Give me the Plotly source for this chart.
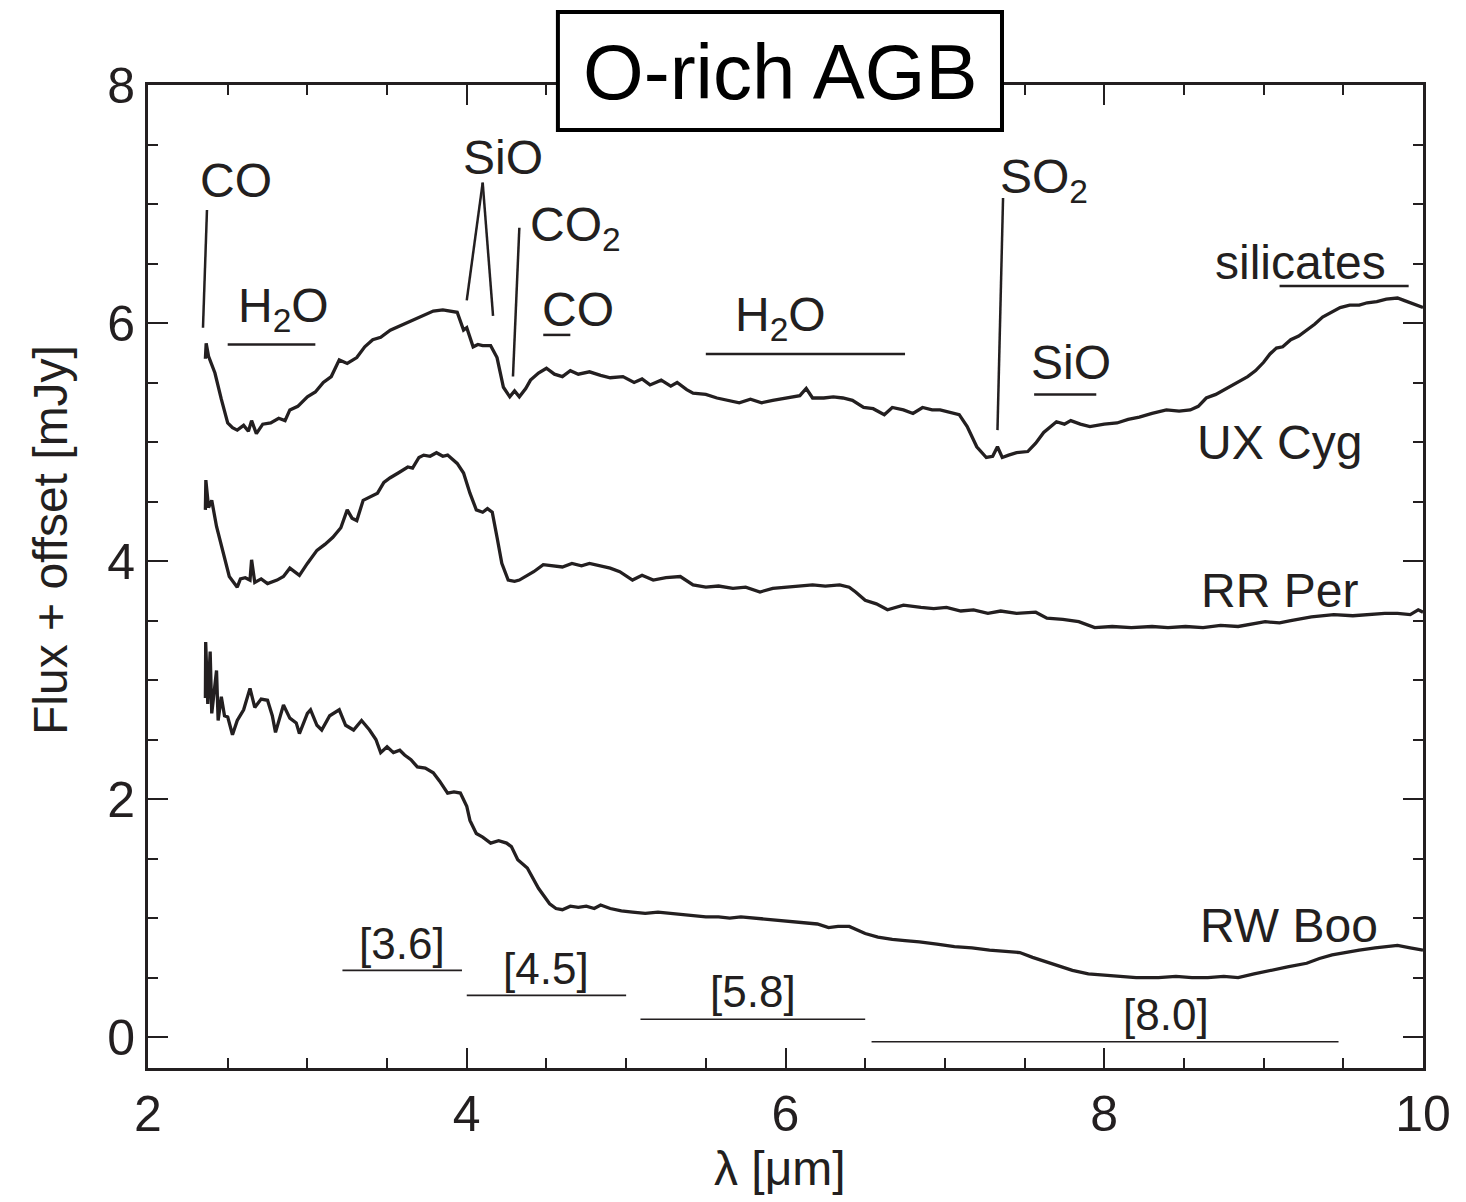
import plotly.graph_objects as go

# ---------------- data ----------------
ux_cyg_x = [2.36, 2.365, 2.38, 2.42, 2.46, 2.50, 2.53, 2.56, 2.60, 2.63, 2.65, 2.68, 2.72, 2.77, 2.82, 2.86,
            2.89, 2.94, 3.00, 3.05, 3.10, 3.15, 3.20, 3.25, 3.31, 3.36, 3.41, 3.46, 3.52, 3.57, 3.63, 3.68,
            3.73, 3.79, 3.85, 3.90, 3.94, 3.98, 4.00, 4.04, 4.07, 4.10, 4.15, 4.19, 4.23, 4.27, 4.30, 4.33,
            4.37, 4.40, 4.45, 4.50, 4.55, 4.60, 4.65, 4.70, 4.77, 4.84, 4.90, 4.98, 5.05, 5.10, 5.15, 5.22,
            5.28, 5.32, 5.38, 5.42, 5.50, 5.57, 5.64, 5.71, 5.78, 5.85, 5.92, 6.00, 6.09, 6.13, 6.17, 6.24,
            6.30, 6.36, 6.42, 6.49, 6.55, 6.62, 6.67, 6.74, 6.80, 6.86, 6.92, 6.97, 7.03, 7.09, 7.14, 7.20,
            7.26, 7.30, 7.33, 7.36, 7.40, 7.45, 7.52, 7.57, 7.62, 7.70, 7.75, 7.79, 7.85, 7.91, 8.00, 8.08,
            8.15, 8.22, 8.30, 8.39, 8.47, 8.54, 8.59, 8.64, 8.70, 8.77, 8.84, 8.90, 8.95, 9.00, 9.04, 9.08,
            9.12, 9.17, 9.22, 9.27, 9.32, 9.37, 9.42, 9.48, 9.54, 9.60, 9.65, 9.71, 9.77, 9.84, 9.88, 9.92,
            9.96, 10.0]
ux_cyg_y = [5.70, 5.83, 5.72, 5.58, 5.36, 5.16, 5.12, 5.10, 5.14, 5.09, 5.18, 5.07, 5.15, 5.16, 5.20, 5.18,
            5.27, 5.30, 5.38, 5.42, 5.50, 5.55, 5.69, 5.66, 5.71, 5.80, 5.86, 5.88, 5.94, 5.97, 6.01, 6.04,
            6.07, 6.10, 6.11, 6.10, 6.09, 5.94, 5.96, 5.80, 5.82, 5.81, 5.81, 5.71, 5.46, 5.38, 5.43, 5.38,
            5.45, 5.52, 5.58, 5.62, 5.57, 5.55, 5.60, 5.57, 5.59, 5.56, 5.54, 5.55, 5.50, 5.53, 5.48, 5.52,
            5.47, 5.50, 5.44, 5.41, 5.40, 5.37, 5.35, 5.33, 5.36, 5.33, 5.35, 5.37, 5.39, 5.45, 5.37, 5.37,
            5.38, 5.37, 5.35, 5.29, 5.28, 5.23, 5.29, 5.27, 5.24, 5.29, 5.27, 5.27, 5.25, 5.23, 5.13, 4.96,
            4.87, 4.88, 4.96, 4.87, 4.89, 4.91, 4.92, 4.99, 5.08, 5.17, 5.15, 5.18, 5.15, 5.13, 5.15, 5.16,
            5.19, 5.21, 5.24, 5.27, 5.26, 5.27, 5.30, 5.37, 5.40, 5.45, 5.50, 5.55, 5.60, 5.67, 5.74, 5.79,
            5.80, 5.86, 5.89, 5.94, 5.99, 6.05, 6.09, 6.13, 6.15, 6.15, 6.17, 6.18, 6.20, 6.21, 6.19, 6.17,
            6.15, 6.13]

rr_per_x = [2.36, 2.363, 2.38, 2.40, 2.43, 2.47, 2.51, 2.56, 2.58, 2.61, 2.64, 2.65, 2.67, 2.71, 2.75, 2.81,
            2.85, 2.89, 2.95, 3.00, 3.06, 3.11, 3.16, 3.21, 3.25, 3.28, 3.31, 3.35, 3.40, 3.44, 3.48, 3.52,
            3.57, 3.63, 3.66, 3.70, 3.73, 3.77, 3.81, 3.85, 3.88, 3.94, 3.98, 4.02, 4.06, 4.10, 4.13, 4.16,
            4.19, 4.22, 4.26, 4.30, 4.33, 4.38, 4.42, 4.48, 4.54, 4.60, 4.66, 4.72, 4.77, 4.84, 4.90, 4.96,
            5.04, 5.10, 5.17, 5.25, 5.34, 5.42, 5.50, 5.58, 5.67, 5.75, 5.84, 5.92, 6.00, 6.08, 6.17, 6.25,
            6.34, 6.40, 6.44, 6.50, 6.57, 6.64, 6.74, 6.85, 6.93, 7.01, 7.10, 7.18, 7.27, 7.35, 7.45, 7.57,
            7.64, 7.74, 7.84, 7.94, 8.05, 8.17, 8.30, 8.40, 8.51, 8.62, 8.73, 8.84, 8.93, 9.01, 9.10, 9.17,
            9.30, 9.44, 9.56, 9.67, 9.76, 9.84, 9.92, 9.97, 10.0]
rr_per_y = [4.43, 4.68, 4.45, 4.51, 4.29, 4.07, 3.87, 3.78, 3.85, 3.86, 3.84, 4.01, 3.82, 3.85, 3.81, 3.84,
            3.87, 3.94, 3.88, 3.98, 4.09, 4.14, 4.20, 4.28, 4.43, 4.36, 4.34, 4.51, 4.54, 4.57, 4.66, 4.70,
            4.74, 4.79, 4.78, 4.87, 4.89, 4.88, 4.91, 4.88, 4.89, 4.82, 4.74, 4.57, 4.43, 4.41, 4.44, 4.41,
            4.20, 3.98, 3.84, 3.83, 3.84, 3.88, 3.91, 3.97, 3.96, 3.95, 3.98, 3.96, 3.98, 3.96, 3.94, 3.91,
            3.84, 3.88, 3.84, 3.86, 3.87, 3.80, 3.78, 3.79, 3.77, 3.78, 3.74, 3.77, 3.78, 3.79, 3.80, 3.79,
            3.80, 3.78, 3.74, 3.67, 3.64, 3.59, 3.63, 3.61, 3.60, 3.61, 3.58, 3.59, 3.56, 3.58, 3.56, 3.57,
            3.52, 3.51, 3.49, 3.44, 3.45, 3.44, 3.45, 3.44, 3.45, 3.44, 3.46, 3.45, 3.47, 3.49, 3.48, 3.50,
            3.53, 3.55, 3.54, 3.55, 3.56, 3.56, 3.55, 3.59, 3.57]

rw_boo_x = [2.36, 2.362, 2.375, 2.39, 2.40, 2.43, 2.44, 2.46, 2.48, 2.50, 2.53, 2.56, 2.60, 2.64, 2.67, 2.71,
            2.75, 2.78, 2.80, 2.85, 2.89, 2.93, 2.95, 3.00, 3.02, 3.06, 3.09, 3.14, 3.20, 3.24, 3.29, 3.34,
            3.39, 3.43, 3.46, 3.50, 3.54, 3.58, 3.61, 3.65, 3.69, 3.74, 3.79, 3.83, 3.88, 3.92, 3.96, 4.00,
            4.02, 4.06, 4.10, 4.15, 4.20, 4.25, 4.28, 4.32, 4.38, 4.45, 4.52, 4.56, 4.60, 4.65, 4.70, 4.75,
            4.80, 4.84, 4.90, 4.97, 5.04, 5.12, 5.20, 5.27, 5.35, 5.42, 5.50, 5.58, 5.65, 5.72, 5.80, 5.90,
            6.00, 6.13, 6.20, 6.27, 6.33, 6.40, 6.45, 6.50, 6.58, 6.67, 6.75, 6.84, 6.95, 7.06, 7.17, 7.28,
            7.38, 7.47, 7.55, 7.64, 7.72, 7.80, 7.90, 8.00, 8.10, 8.20, 8.34, 8.45, 8.55, 8.65, 8.75, 8.84,
            8.94, 9.04, 9.15, 9.27, 9.35, 9.43, 9.51, 9.60, 9.70, 9.78, 9.84, 9.92, 10.0]
rw_boo_y = [2.85, 3.32, 2.80, 3.24, 2.72, 3.08, 2.66, 2.86, 2.70, 2.69, 2.54, 2.66, 2.75, 2.93, 2.77, 2.84,
            2.83, 2.70, 2.56, 2.79, 2.68, 2.64, 2.55, 2.72, 2.75, 2.62, 2.58, 2.70, 2.75, 2.62, 2.58, 2.66,
            2.58, 2.50, 2.39, 2.44, 2.39, 2.41, 2.37, 2.33, 2.27, 2.26, 2.22, 2.15, 2.05, 2.06, 2.05, 1.94,
            1.82, 1.71, 1.68, 1.63, 1.65, 1.63, 1.60, 1.49, 1.42, 1.25, 1.12, 1.08, 1.07, 1.10, 1.09, 1.10,
            1.08, 1.11, 1.08, 1.06, 1.05, 1.04, 1.05, 1.04, 1.03, 1.02, 1.01, 1.01, 1.00, 1.01, 1.00, 0.99,
            0.98, 0.96, 0.95, 0.92, 0.93, 0.93, 0.90, 0.87, 0.84, 0.82, 0.81, 0.80, 0.78, 0.76, 0.75, 0.73,
            0.72, 0.71, 0.67, 0.63, 0.59, 0.56, 0.53, 0.52, 0.51, 0.50, 0.50, 0.51, 0.50, 0.50, 0.51, 0.50,
            0.53, 0.56, 0.59, 0.62, 0.66, 0.69, 0.71, 0.73, 0.75, 0.76, 0.77, 0.75, 0.73]

x_ticks = [2, 4, 6, 8, 10]
y_ticks = [0, 2, 4, 6, 8]

# IRAC filter bands: label, start, end
band_labels = ["[3.6]", "[4.5]", "[5.8]", "[8.0]"]
band_start = [3.22, 4.00, 5.09, 6.54]
band_end = [3.97, 5.00, 6.50, 9.47]

# ---------------- figure ----------------
INK = "#231f20"
FONT = "Liberation Sans, Arial, Helvetica, sans-serif"

fig = go.Figure()
for xs, ys in [(ux_cyg_x, ux_cyg_y), (rr_per_x, rr_per_y), (rw_boo_x, rw_boo_y)]:
    fig.add_trace(go.Scatter(x=xs, y=ys, mode="lines",
                             line=dict(color=INK, width=3.3), showlegend=False,
                             hoverinfo="skip"))

shapes = []
annots = []


def seg(x0, y0, x1, y1, w=2.5):
    shapes.append(dict(type="line", xref="x", yref="y", x0=x0, y0=y0, x1=x1, y1=y1,
                       line=dict(color=INK, width=w)))


def label(x, y, text, size=48):
    annots.append(dict(x=x, y=y, xref="x", yref="y", text=text, showarrow=False,
                       font=dict(family=FONT, size=size, color=INK),
                       xanchor="center", yanchor="middle"))


# molecular feature labels
label(2.55, 7.20, "CO")
seg(2.37, 6.95, 2.345, 5.96)
label(2.85, 6.12, "H<sub>2</sub>O")
seg(2.50, 5.82, 3.05, 5.82)
label(4.23, 7.39, "SiO")
seg(4.10, 7.18, 4.00, 6.19)
seg(4.10, 7.18, 4.165, 6.06)
label(4.68, 6.80, "CO<sub>2</sub>")
seg(4.33, 6.80, 4.29, 5.55)
label(4.70, 6.11, "CO")
seg(4.48, 5.90, 4.65, 5.90)
label(5.97, 6.04, "H<sub>2</sub>O")
seg(5.50, 5.74, 6.75, 5.74)
label(7.62, 7.20, "SO<sub>2</sub>")
seg(7.365, 7.05, 7.33, 5.10)
label(7.79, 5.67, "SiO")
seg(7.56, 5.40, 7.95, 5.40)
label(9.23, 6.51, "silicates")
seg(9.10, 6.31, 9.91, 6.31)

# star names
label(9.10, 5.00, "UX Cyg")
label(9.10, 3.75, "RR Per")
label(9.16, 0.94, "RW Boo")

# filter bands
band_y = [0.56, 0.35, 0.15, -0.04]
for name, x0, x1, yb in zip(band_labels, band_start, band_end, band_y):
    seg(x0, yb, x1, yb, w=1.6)
    label((x0 + x1) / 2 if name != "[8.0]" else 8.39, yb + 0.23, name, size=44)

# title box
shapes.append(dict(type="rect", xref="paper", yref="paper", x0=0.3215, x1=0.6698, y0=0.9542, y1=1.0742,
                   fillcolor="white", line=dict(color="black", width=4), layer="above"))
annots.append(dict(x=0.4957, y=1.0132, xref="paper", yref="paper", text="O-rich AGB", showarrow=False,
                   font=dict(family=FONT, size=78, color="black"), xanchor="center", yanchor="middle"))

# axis titles
annots.append(dict(x=0.4957, y=-0.102, xref="paper", yref="paper", text="λ [μm]", showarrow=False,
                   font=dict(family=FONT, size=48, color=INK), xanchor="center", yanchor="middle"))
annots.append(dict(x=-0.077, y=0.537, xref="paper", yref="paper", text="Flux + offset [mJy]",
                   showarrow=False, textangle=-90,
                   font=dict(family=FONT, size=48, color=INK), xanchor="center", yanchor="middle"))

axis_common = dict(showgrid=False, zeroline=False, showline=True, linecolor=INK, linewidth=3,
                   mirror="ticks", ticks="inside", tickcolor=INK, tickwidth=2, ticklen=20,
                   tickfont=dict(family=FONT, size=50, color=INK))

fig.update_layout(
    width=1466, height=1202,
    margin=dict(l=148, r=43, t=85, b=134),
    paper_bgcolor="white", plot_bgcolor="white",
    shapes=shapes, annotations=annots,
    xaxis=dict(range=[2, 10], tickvals=x_ticks, ticktext=[str(v) for v in x_ticks],
               minor=dict(dtick=0.5, ticklen=10, tickwidth=2, tickcolor=INK, ticks="inside"),
               **axis_common),
    yaxis=dict(range=[-0.26, 8.0], tickvals=y_ticks, ticktext=[str(v) for v in y_ticks],
               minor=dict(dtick=0.5, ticklen=10, tickwidth=2, tickcolor=INK, ticks="inside"),
               **axis_common),
)

fig.write_html("out.html")
